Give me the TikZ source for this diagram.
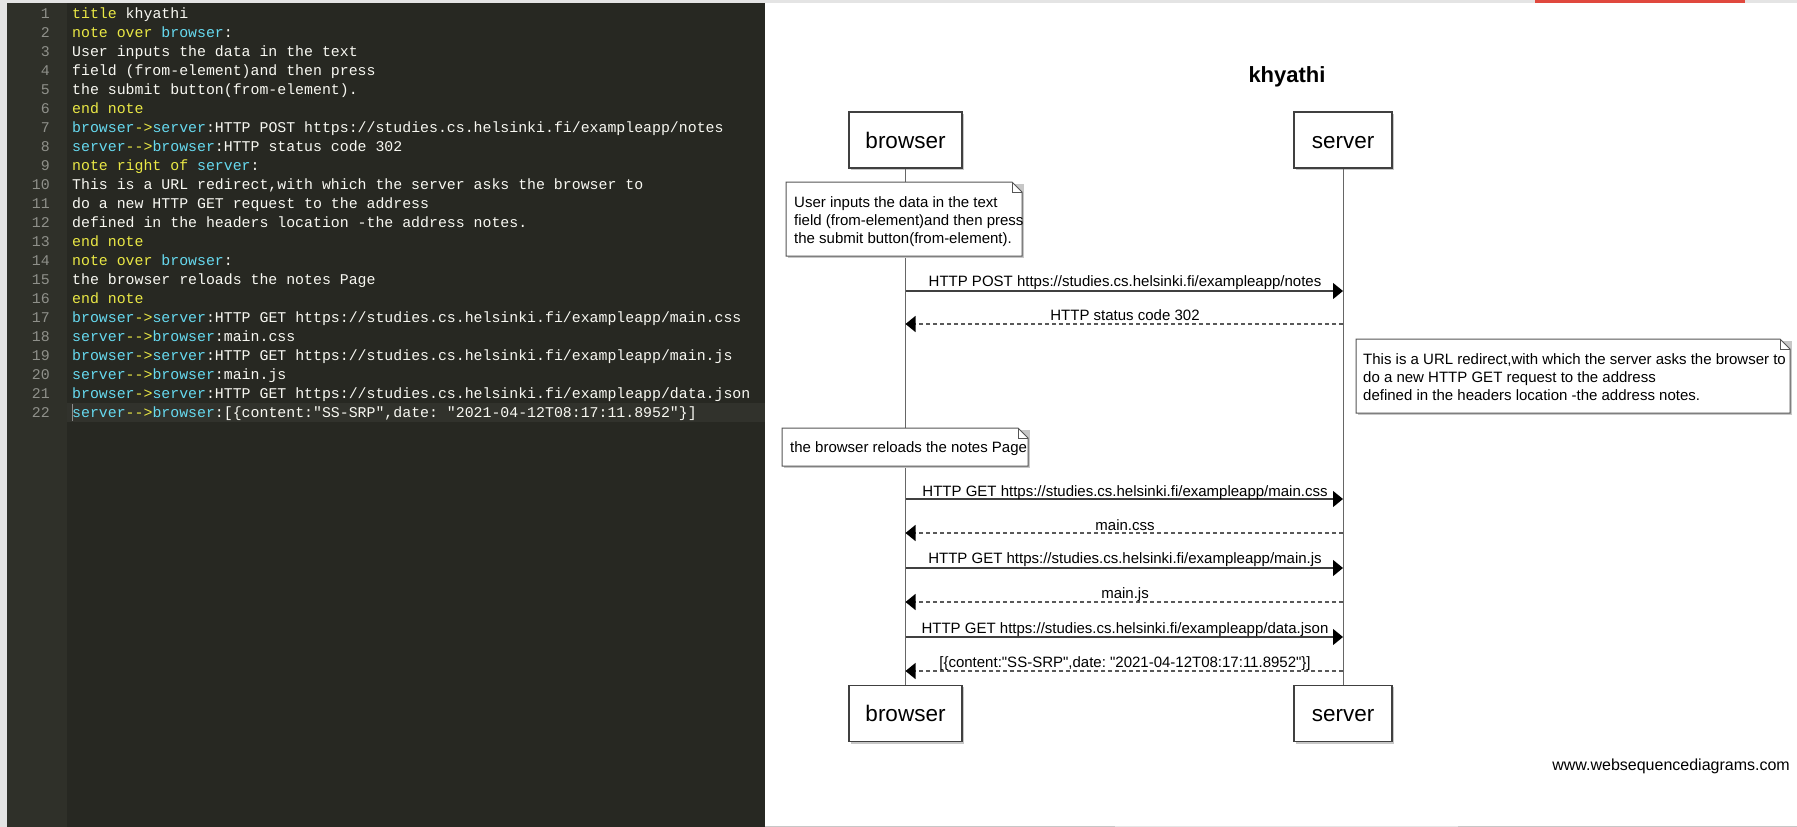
\documentclass[tikz,border=0pt]{standalone}
\usepackage{fontspec}
\setmainfont{Liberation Sans}[Ligatures=TeXOff]
\newfontfamily\codefont{Liberation Mono}
\usetikzlibrary{arrows.meta}
\frenchspacing
\definecolor{edbg}{HTML}{272822}
\definecolor{gutbg}{HTML}{2F3029}
\definecolor{linehl}{HTML}{31322C}
\definecolor{lnum}{HTML}{8F908A}
\definecolor{kwc}{HTML}{EAE845}
\definecolor{nmc}{HTML}{66D9EF}
\definecolor{txc}{HTML}{F8F8F2}
\definecolor{lgrey}{HTML}{E4E4E4}
\definecolor{redbar}{HTML}{E0483E}
\definecolor{lnc}{HTML}{555555}
\newcommand\cK[1]{\textcolor{kwc}{#1}}
\newcommand\cN[1]{\textcolor{nmc}{#1}}
\begin{document}
\begin{tikzpicture}[x=1pt,y=-1pt,
  codeline/.style={anchor=base west,inner sep=0pt,text=txc,font=\codefont\frenchspacing\fontsize{14.87}{19}\selectfont},
  lnumst/.style={anchor=base east,inner sep=0pt,text=lnum,font=\codefont\fontsize{14.87}{19}\selectfont},
  actor/.style={draw=black!75,line width=1.3pt,fill=white,minimum height=56pt,inner sep=0pt,text height=16pt,text depth=0pt,font=\fontsize{22.5}{26}\selectfont},
  small/.style={inner sep=0pt,font=\frenchspacing\fontsize{15}{18}\selectfont},
  notest/.style={draw=lnc,line width=1pt,fill=white},
  shadowst/.style={fill=black!22},
  life/.style={draw=black!60,line width=1pt},
  msg/.style={draw=black!75,line width=1.2pt,-{Triangle[length=10pt,width=16pt,black]}},
  ret/.style={draw=black!65,line width=1.1pt,dash pattern=on 4pt off 3pt,-{Triangle[length=10pt,width=16pt,black]}}
]
\useasboundingbox (0,0) rectangle (1797,827);
% backgrounds
\fill[white] (0,0) rectangle (1797,827);
\fill[lgrey] (0,0) rectangle (7,827);
\fill[gutbg] (7,3) rectangle (67,827);
\fill[edbg] (67,3) rectangle (765,827);
\fill[linehl] (67,403) rectangle (765,422);
\fill[lgrey] (0,0) rectangle (1797,3);
\fill[redbar] (1535,0) rectangle (1745,2.5);
\fill[black!22] (765,825.5) rectangle (1797,827);
\fill[black!10] (1115,825.5) rectangle (1458,827);
\draw[black!45,line width=1pt] (72.5,404) -- (72.5,421);
% line numbers
\foreach \n in {1,...,22}{
  \node[lnumst] (ln\n) at (50,{18.5+19*(\n-1)}) {\n};
}
% code
\node[codeline] (c1) at (72,18.5) {\cK{title} khyathi};
\node[codeline] (c2) at (72,37.5) {\cK{note over} \cN{browser}:};
\node[codeline] (c3) at (72,56.5) {User inputs the data in the text};
\node[codeline] (c4) at (72,75.5) {field (from-element)and then press};
\node[codeline] (c5) at (72,94.5) {the submit button(from-element).};
\node[codeline] (c6) at (72,113.5) {\cK{end note}};
\node[codeline] (c7) at (72,132.5) {\cN{browser}\cK{->}\cN{server}:HTTP POST https://studies.cs.helsinki.fi/exampleapp/notes};
\node[codeline] (c8) at (72,151.5) {\cN{server}\cK{-{}->}\cN{browser}:HTTP status code 302};
\node[codeline] (c9) at (72,170.5) {\cK{note right of} \cN{server}:};
\node[codeline] (c10) at (72,189.5) {This is a URL redirect,with which the server asks the browser to};
\node[codeline] (c11) at (72,208.5) {do a new HTTP GET request to the address};
\node[codeline] (c12) at (72,227.5) {defined in the headers location -the address notes.};
\node[codeline] (c13) at (72,246.5) {\cK{end note}};
\node[codeline] (c14) at (72,265.5) {\cK{note over} \cN{browser}:};
\node[codeline] (c15) at (72,284.5) {the browser reloads the notes Page};
\node[codeline] (c16) at (72,303.5) {\cK{end note}};
\node[codeline] (c17) at (72,322.5) {\cN{browser}\cK{->}\cN{server}:HTTP GET https://studies.cs.helsinki.fi/exampleapp/main.css};
\node[codeline] (c18) at (72,341.5) {\cN{server}\cK{-{}->}\cN{browser}:main.css};
\node[codeline] (c19) at (72,360.5) {\cN{browser}\cK{->}\cN{server}:HTTP GET https://studies.cs.helsinki.fi/exampleapp/main.js};
\node[codeline] (c20) at (72,379.5) {\cN{server}\cK{-{}->}\cN{browser}:main.js};
\node[codeline] (c21) at (72,398.5) {\cN{browser}\cK{->}\cN{server}:HTTP GET https://studies.cs.helsinki.fi/exampleapp/data.json};
\node[codeline] (c22) at (72,417.5) {\cN{server}\cK{-{}->}\cN{browser}:[\{content:"SS-SRP",date: "2021-04-12T08:17:11.8952"\}]};
% ---------- diagram ----------
\node[font=\bfseries\fontsize{22}{26}\selectfont,inner sep=0pt] (title) at (1287,77) {khyathi};
% shadows of actor boxes
\fill[shadowst] (851,114) rectangle (964,170);
\fill[shadowst] (1296,114) rectangle (1394,170);
\fill[shadowst] (851,687) rectangle (964,744);
\fill[shadowst] (1296,687) rectangle (1394,744);
\node[actor,minimum width=113pt] (bt) at (905.5,140) {browser};
\node[actor,minimum width=98pt] (st) at (1343,140) {server};
\node[actor,minimum width=113pt] (bb) at (905.5,713.5) {browser};
\node[actor,minimum width=98pt] (sb) at (1343,713.5) {server};
\draw[life] (bt.south) -- (bb.north);
\draw[life] (st.south) -- (sb.north);
% notes
\newcommand\drawnote[4]{%
  \fill[shadowst] (#1+2,#2+2) rectangle (#3+2,#4+2);
  \filldraw[notest] (#1,#2) -- (#3-10,#2) -- (#3,#2+10) -- (#3,#4) -- (#1,#4) -- cycle;
  \draw[notest,fill=none] (#3-10,#2) -- (#3-10,#2+10) -- (#3,#2+10);}
\drawnote{786}{182}{1022}{256}
\node[small,anchor=base west] (n1a) at (794,207) {User inputs the data in the text};
\node[small,anchor=base west] (n1b) at (794,225) {field (from-element)and then press};
\node[small,anchor=base west] (n1c) at (794,243) {the submit button(from-element).};
\drawnote{1356}{339}{1790}{413}
\node[small,anchor=base west] (n2a) at (1363,364) {This is a URL redirect,with which the server asks the browser to};
\node[small,anchor=base west] (n2b) at (1363,382) {do a new HTTP GET request to the address};
\node[small,anchor=base west] (n2c) at (1363,400) {defined in the headers location -the address notes.};
\drawnote{782}{428}{1028}{466}
\node[small,anchor=base west] (n3a) at (790,452) {the browser reloads the notes Page};
% messages
\foreach \i/\y in {1/291,2/324,3/499,4/533,5/568,6/602,7/637,8/671}{
  \coordinate (b\i) at (905.5,\y);
  \coordinate (s\i) at (1343,\y);
}
\draw[msg] (b1) -- (s1);
\draw[ret] (s2) -- (b2);
\draw[msg] (b3) -- (s3);
\draw[ret] (s4) -- (b4);
\draw[msg] (b5) -- (s5);
\draw[ret] (s6) -- (b6);
\draw[msg] (b7) -- (s7);
\draw[ret] (s8) -- (b8);
\node[small,anchor=base] (m1) at (1125,286) {HTTP POST https://studies.cs.helsinki.fi/exampleapp/notes};
\node[small,anchor=base] (m2) at (1125,320) {HTTP status code 302};
\node[small,anchor=base] (m3) at (1125,496) {HTTP GET https://studies.cs.helsinki.fi/exampleapp/main.css};
\node[small,anchor=base] (m4) at (1125,530) {main.css};
\node[small,anchor=base] (m5) at (1125,563) {HTTP GET https://studies.cs.helsinki.fi/exampleapp/main.js};
\node[small,anchor=base] (m6) at (1125,598) {main.js};
\node[small,anchor=base] (m7) at (1125,633) {HTTP GET https://studies.cs.helsinki.fi/exampleapp/data.json};
\node[small,anchor=base] (m8) at (1125,667) {[\{content:"SS-SRP",date: "2021-04-12T08:17:11.8952"\}]};
\node[inner sep=0pt,anchor=base east,font=\fontsize{16}{19}\selectfont] (wsd) at (1790,770) {www.websequencediagrams.com};
\end{tikzpicture}
\end{document}
